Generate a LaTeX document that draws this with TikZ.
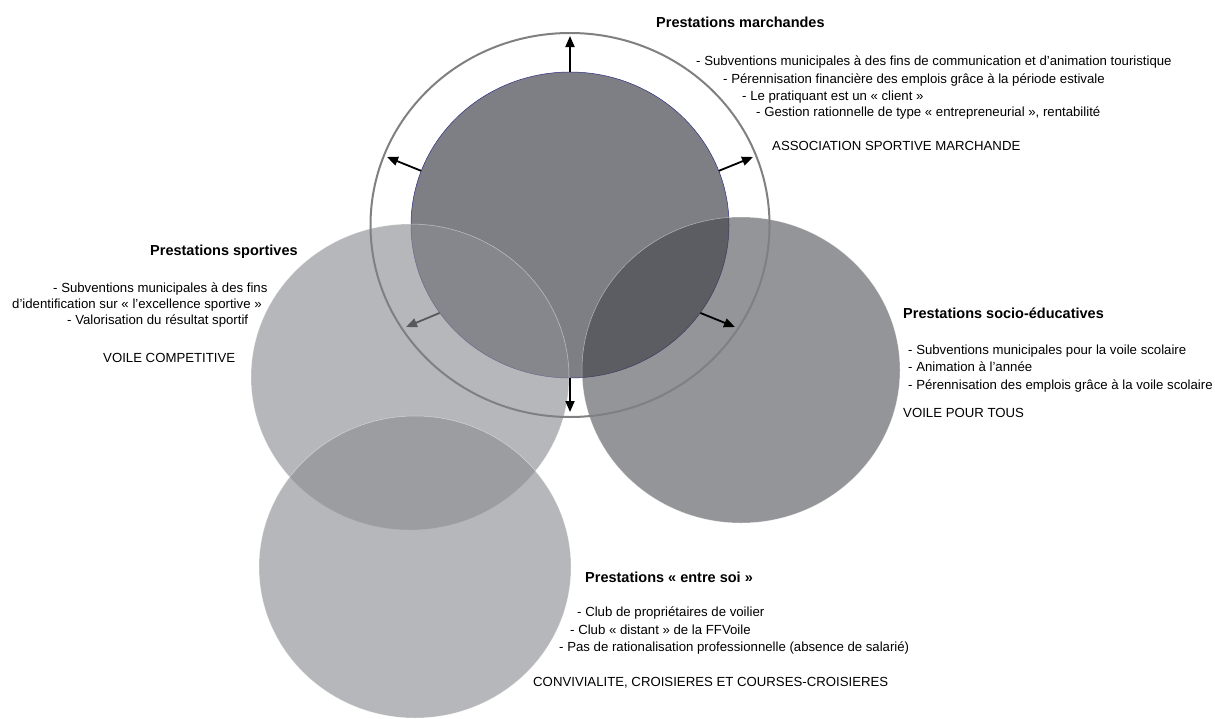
\documentclass[tikz,border=0pt]{standalone}
\usepackage{fontspec}
\setmainfont{Liberation Sans}
\usetikzlibrary{positioning,shapes.geometric,arrows.meta}
\definecolor{core}{RGB}{126,127,132}
\definecolor{rim}{RGB}{46,46,130}
\definecolor{pale}{RGB}{140,141,146}
\definecolor{deep}{RGB}{67,68,73}
\definecolor{ringgray}{RGB}{128,128,130}

\begin{document}
\begin{tikzpicture}[x=1pt, y=-1pt,
        disc/.style={ellipse, inner sep=0, minimum width=318pt, minimum height=306pt},
        outarrow/.style={-{Triangle[length=11pt, width=9pt]}, line width=1.8pt},
        head/.style={anchor=base west, inner sep=0, font=\bfseries\fontsize{14.5}{17}\selectfont},
        txt/.style={anchor=base west, inner sep=0, font=\fontsize{13.2}{16}\selectfont}]
        \useasboundingbox (0,0) rectangle (1215,718);

        \node[disc, fill=core, draw=rim, line width=0.5pt] (march) at (570,225) {};

        \coordinate (tipup) at (570,36);
        \coordinate (tipul) at (387,157);
        \coordinate (tipur) at (753,157);
        \coordinate (tipll) at (406,327);
        \coordinate (tiplr) at (735,327);
        \coordinate (tipdn) at (570,412);

        \draw[outarrow] (march.214) -- (tipll);

        \node[disc, fill=pale, fill opacity=0.63, draw=white, draw opacity=0.5, line width=0.5pt] (sport) at (410,377) {};
        \node[disc, minimum width=312pt, minimum height=302pt, fill=pale, fill opacity=0.63, draw=white, draw opacity=0.5, line width=0.5pt] (soi) at (415,567) {};
        \node[disc, fill=deep, fill opacity=0.57, draw=white, draw opacity=0.5, line width=0.5pt] (socio) at (741,370) {};
        \node[ellipse, inner sep=0, minimum width=399pt, minimum height=384pt, draw=ringgray, line width=2pt] (ring) at (570,225) {};

        \draw[outarrow] (march.90) -- (tipup);
        \draw[outarrow] (march.160) -- (tipul);
        \draw[outarrow] (march.20) -- (tipur);
        \draw[outarrow] (march.326) -- (tiplr);
        \draw[outarrow] (march.270) -- (tipdn);

        \node[head] (hm) at (656,27.2) {Prestations marchandes};
        \node[txt] (m1) at (696,65.7) {- Subventions municipales à des fins de communication et d’animation touristique};
        \node[txt] (m2) at (723,83.7) {- Pérennisation financière des emplois grâce à la période estivale};
        \node[txt] (m3) at (742,100.7) {- Le pratiquant est un « client »};
        \node[txt] (m4) at (756,116.7) {- Gestion rationnelle de type « entrepreneurial », rentabilité};
        \node[txt] (m5) at (772,150.7) {ASSOCIATION SPORTIVE MARCHANDE};

        \node[head] (hs) at (150,255.2) {Prestations sportives};
        \node[txt] (s1) at (53,292.7) {- Subventions municipales à des fins};
        \node[txt] (s2) at (12,308.7) {d’identification sur « l’excellence sportive »};
        \node[txt] (s3) at (67,324.7) {- Valorisation du résultat sportif};
        \node[txt] (s4) at (103,362) {VOILE COMPETITIVE};

        \node[head] (hp) at (903,318.2) {Prestations socio-éducatives};
        \node[txt] (p1) at (908,354.7) {- Subventions municipales pour la voile scolaire};
        \node[txt] (p2) at (908,371.7) {- Animation à l’année};
        \node[txt] (p3) at (908,389.7) {- Pérennisation des emplois grâce à la voile scolaire};
        \node[txt] (p4) at (903,417.7) {VOILE POUR TOUS};

        \node[head] (he) at (585,582.2) {Prestations « entre soi »};
        \node[txt] (e1) at (577,616.7) {- Club de propriétaires de voilier};
        \node[txt] (e2) at (570,634.7) {- Club « distant » de la FFVoile};
        \node[txt] (e3) at (559,651.7) {- Pas de rationalisation professionnelle (absence de salarié)};
        \node[txt] (e4) at (533,686.7) {CONVIVIALITE, CROISIERES ET COURSES-CROISIERES};
        \end{tikzpicture}
\end{document}
